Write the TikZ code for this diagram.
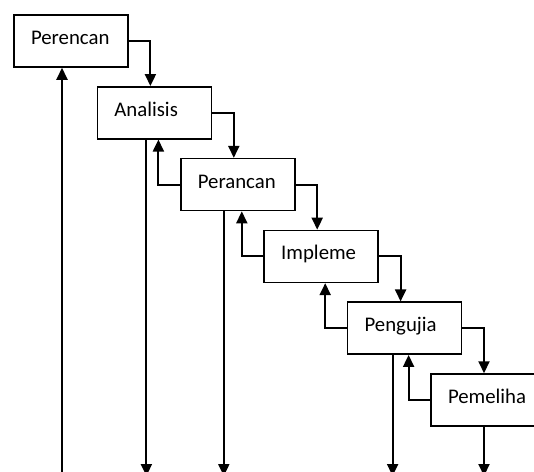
\documentclass[tikz,border=0pt]{standalone}
\usepackage{fontspec}
\setmainfont{Carlito}
\usetikzlibrary{
  positioning,
  arrows.meta
}
\tikzset{
  >={Triangle[length=12pt, width=11pt]},
  box/.style = {
    draw, line width=1.5pt,
    minimum width=114pt, minimum height=52pt,
    text width=80pt, inner xsep=17pt, align=left,
    text height=14pt, text depth=7pt,
    font=\fontsize{20.8}{24}\selectfont,
    execute at begin node={\hyphenpenalty=10000}
  },
  elbow/.style = {
    ->, line width=2pt, to path={-| (\tikztotarget)}
  },
  line/.style = {
    ->, line width=2pt
  }
}
\begin{document}
\begin{tikzpicture}[x=1pt, y=1pt]
  \useasboundingbox (0,0) rectangle (534,-471);
  \coordinate (bot) at (0,-476);
  \path
    (71,-41) node [box] (pr) {Perencan}
    (154.4,-112.8) node [box] (an) {Analisis}
    (237.8,-184.6) node [box] (pc) {Perancan}
    (321.2,-256.4) node [box] (im) {Impleme}
    (404.6,-328.2) node [box] (pg) {Pengujia}
    (488,-400) node [box] (pm) {Pemeliha};
  % turun ke tahap berikut
  \path
    (pr.east) edge [elbow] ([xshift=-4pt]an.north)
    (an.east) edge [elbow] ([xshift=-4pt]pc.north)
    (pc.east) edge [elbow] ([xshift=-4pt]im.north)
    (im.east) edge [elbow] ([xshift=-4pt]pg.north)
    (pg.east) edge [elbow] ([xshift=-4pt]pm.north);
  % kembali ke tahap sebelumnya
  \path
    (pc.west) edge [elbow] ([xshift=4pt]an.south)
    (im.west) edge [elbow] ([xshift=4pt]pc.south)
    (pg.west) edge [elbow] ([xshift=4pt]im.south)
    (pm.west) edge [elbow] ([xshift=4pt]pg.south);
  % garis bawah
  \path
    ([xshift=-9pt]pr.south |- bot) edge [line] ([xshift=-9pt]pr.south)
    ([xshift=-8pt]an.south) edge [line] ([xshift=-8pt]an.south |- bot)
    ([xshift=-14pt]pc.south) edge [line] ([xshift=-14pt]pc.south |- bot)
    ([xshift=-12pt]pg.south) edge [line] ([xshift=-12pt]pg.south |- bot)
    ([xshift=-4pt]pm.south) edge [line] ([xshift=-4pt]pm.south |- bot);
\end{tikzpicture}
\end{document}
